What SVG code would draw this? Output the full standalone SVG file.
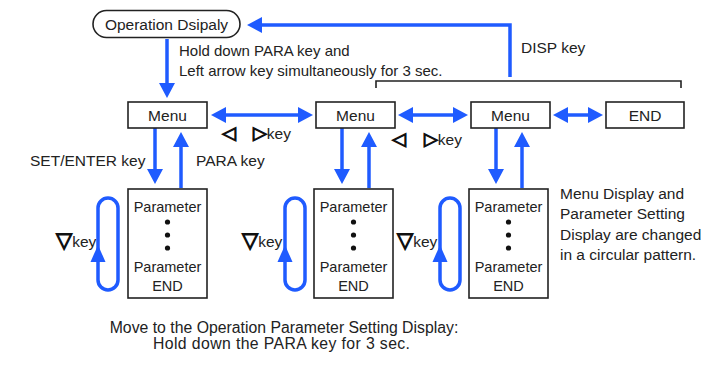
<svg xmlns="http://www.w3.org/2000/svg" width="706" height="367" viewBox="0 0 706 367">
<style>
text{font-family:"Liberation Sans",Arial,sans-serif;font-size:15.5px;fill:#222}
.c{text-anchor:middle}
.p{font-size:14.5px}
.s15{font-size:15px}
.box{fill:#fff;stroke:#222;stroke-width:1.6}
.bl{fill:none;stroke:#1f5bff;stroke-width:3.5}
.sym{font-family:"DejaVu Sans",sans-serif;font-size:18px;fill:#111;stroke:#111;stroke-width:1.1}
.symd{font-family:"DejaVu Sans",sans-serif;font-size:21px;fill:#111;stroke:#111;stroke-width:1.2}
.dot{fill:#111}
.ah{fill:#1f5bff}
</style>
<defs>
<marker id="ar" viewBox="0 0 15 16" refX="0" refY="8" markerWidth="15" markerHeight="16" markerUnits="userSpaceOnUse" orient="auto-start-reverse">
<path d="M0,0 L15,8 L0,16 Z" fill="#1f5bff"/>
</marker>
</defs>
<rect width="706" height="367" fill="#fff"/>

<g id="connectors">
<line class="bl" x1="167" y1="39" x2="167" y2="83" marker-end="url(#ar)"/>
<path class="bl" d="M510,77 V25 H262" marker-end="url(#ar)"/>
<path d="M376,88 V81 H681 V88" fill="none" stroke="#222" stroke-width="1.6"/>
<line class="bl" x1="226" y1="115" x2="298" y2="115" marker-start="url(#ar)" marker-end="url(#ar)"/>
<line class="bl" x1="413" y1="115" x2="453" y2="115" marker-start="url(#ar)" marker-end="url(#ar)"/>
<line class="bl" x1="568" y1="115" x2="588" y2="115" marker-start="url(#ar)" marker-end="url(#ar)"/>
<line class="bl" x1="155" y1="128" x2="155" y2="169" marker-end="url(#ar)"/>
<line class="bl" x1="181" y1="188" x2="181" y2="147" marker-end="url(#ar)"/>
<line class="bl" x1="342" y1="128" x2="342" y2="169" marker-end="url(#ar)"/>
<line class="bl" x1="369" y1="188" x2="369" y2="147" marker-end="url(#ar)"/>
<line class="bl" x1="496" y1="128" x2="496" y2="169" marker-end="url(#ar)"/>
<line class="bl" x1="522" y1="188" x2="522" y2="147" marker-end="url(#ar)"/>
<path class="bl" d="M98,208 V280 A10,10 0 0 0 118,280 V208 A10,10 0 0 0 98,208 Z"/>
<polygon class="ah" points="98,245 90.5,262 105.5,262"/>
<path class="bl" d="M285,208 V280 A10,10 0 0 0 305,280 V208 A10,10 0 0 0 285,208 Z"/>
<polygon class="ah" points="285,245 277.5,262 292.5,262"/>
<path class="bl" d="M440,208 V280 A10,10 0 0 0 460,280 V208 A10,10 0 0 0 440,208 Z"/>
<polygon class="ah" points="440,245 432.5,262 447.5,262"/>
</g>

<g id="op-display">
<rect class="box" x="93" y="10.5" width="147" height="27" rx="13.5"/>
<text class="c" x="166.5" y="29.5">Operation Dsipaly</text>
</g>

<g id="menu1"><rect class="box" x="128" y="102" width="79" height="26"/><text class="c" x="167.5" y="120.5">Menu</text></g>
<g id="menu2"><rect class="box" x="316" y="102" width="79" height="26"/><text class="c" x="355.5" y="120.5">Menu</text></g>
<g id="menu3"><rect class="box" x="471" y="102" width="79" height="26"/><text class="c" x="510.5" y="120.5">Menu</text></g>
<g id="end"><rect class="box" x="606" y="102" width="78" height="26"/><text class="c" x="645" y="120.5">END</text></g>

<g id="param1">
<rect class="box" x="128" y="189" width="79" height="109"/>
<text class="c p" x="167.5" y="212">Parameter</text>
<circle class="dot" cx="167.5" cy="222" r="2.6"/><circle class="dot" cx="167.5" cy="235" r="2.6"/><circle class="dot" cx="167.5" cy="248" r="2.6"/>
<text class="c p" x="167.5" y="272">Parameter</text>
<text class="c p" x="167.5" y="291">END</text>
</g>
<g id="param2">
<rect class="box" x="314" y="189" width="79" height="109"/>
<text class="c p" x="353.5" y="212">Parameter</text>
<circle class="dot" cx="353.5" cy="222" r="2.6"/><circle class="dot" cx="353.5" cy="235" r="2.6"/><circle class="dot" cx="353.5" cy="248" r="2.6"/>
<text class="c p" x="353.5" y="272">Parameter</text>
<text class="c p" x="353.5" y="291">END</text>
</g>
<g id="param3">
<rect class="box" x="469" y="189" width="79" height="109"/>
<text class="c p" x="508.5" y="212">Parameter</text>
<circle class="dot" cx="508.5" cy="222" r="2.6"/><circle class="dot" cx="508.5" cy="235" r="2.6"/><circle class="dot" cx="508.5" cy="248" r="2.6"/>
<text class="c p" x="508.5" y="272">Parameter</text>
<text class="c p" x="508.5" y="291">END</text>
</g>

<g id="labels">
<text class="s15" x="179" y="56">Hold down PARA key and</text>
<text class="s15" x="179" y="76">Left arrow key simultaneously for 3 sec.</text>
<text x="521" y="53">DISP key</text>
<text x="222" y="139"><tspan class="sym">◁</tspan><tspan x="253" class="sym">▷</tspan>key</text>
<text x="392" y="145"><tspan class="sym">◁</tspan><tspan x="424" class="sym">▷</tspan>key</text>
<text x="30" y="166">SET/ENTER key</text>
<text x="196" y="166">PARA key</text>
<text x="56" y="247"><tspan class="symd">▽</tspan>key</text>
<text x="242" y="247"><tspan class="symd">▽</tspan>key</text>
<text x="397" y="247"><tspan class="symd">▽</tspan>key</text>
<text x="560" y="198.5">Menu Display and</text>
<text x="560" y="219">Parameter Setting</text>
<text x="560" y="239.5">Display are changed</text>
<text x="560" y="260">in a circular pattern.</text>
<text class="c" x="284" y="333" style="font-size:15.8px">Move to the Operation Parameter Setting Display:</text>
<text x="153" y="348.5" textLength="257" lengthAdjust="spacing" style="font-size:15.8px">Hold down the PARA key for 3 sec.</text>
</g>
</svg>
